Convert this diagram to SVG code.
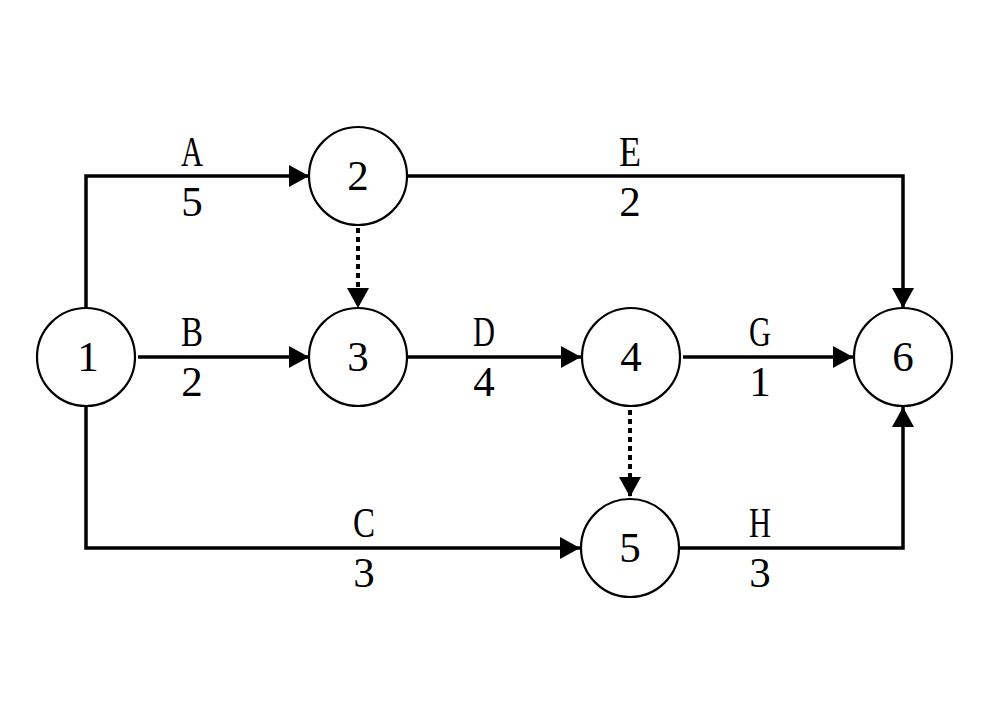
<svg xmlns="http://www.w3.org/2000/svg" width="1000" height="701" viewBox="0 0 1000 701">
<style>
.node circle{fill:#fff;stroke:#000;stroke-width:2.2}
text{font-family:'Liberation Serif','DejaVu Serif','Times New Roman',serif;font-size:43px;text-anchor:middle;fill:#000}
.e{fill:none;stroke:#000;stroke-width:3.5;marker-end:url(#ah)}
.d{fill:none;stroke:#000;stroke-width:4;stroke-dasharray:5 4;marker-end:url(#ah)}
</style>
<defs>
<marker id="ah" markerUnits="userSpaceOnUse" markerWidth="22" markerHeight="24" refX="20" refY="11" orient="auto">
<path d="M0,0 L20,11 L0,22 Z" fill="#000"/>
</marker>
</defs>
<rect width="1000" height="701" fill="#fff"/>
<g id="connectors">
<path class="e" d="M86,308 V176 H309"/>
<path class="e" d="M138,357 H309"/>
<path class="e" d="M408,176 H903 V308"/>
<path class="d" d="M358,228 V308"/>
<path class="e" d="M408,357 H581"/>
<path class="e" d="M683,357 H853"/>
<path class="d" d="M630,410 V497"/>
<path class="e" d="M86,407 V548 H580"/>
<path class="e" d="M680,548 H903 V407"/>
<text x="192" y="166" textLength="22" lengthAdjust="spacingAndGlyphs">A</text>
<text x="192" y="216">5</text>
<text x="192" y="346" textLength="22" lengthAdjust="spacingAndGlyphs">B</text>
<text x="192" y="396">2</text>
<text x="630" y="166" textLength="22" lengthAdjust="spacingAndGlyphs">E</text>
<text x="630" y="216">2</text>
<text x="484" y="346" textLength="22" lengthAdjust="spacingAndGlyphs">D</text>
<text x="484" y="396">4</text>
<text x="760" y="346" textLength="22" lengthAdjust="spacingAndGlyphs">G</text>
<text x="760" y="396">1</text>
<text x="364" y="537" textLength="22" lengthAdjust="spacingAndGlyphs">C</text>
<text x="364" y="587">3</text>
<text x="760" y="537" textLength="22" lengthAdjust="spacingAndGlyphs">H</text>
<text x="760" y="587">3</text>
</g>
<g id="n1" class="node"><circle cx="86" cy="357" r="49"/><text x="88" y="371">1</text></g>
<g id="n2" class="node"><circle cx="358" cy="176" r="49"/><text x="358" y="190">2</text></g>
<g id="n3" class="node"><circle cx="358" cy="357" r="49"/><text x="358" y="371">3</text></g>
<g id="n4" class="node"><circle cx="631" cy="357" r="49"/><text x="631" y="371">4</text></g>
<g id="n5" class="node"><circle cx="630" cy="548" r="49"/><text x="630" y="562">5</text></g>
<g id="n6" class="node"><circle cx="903" cy="357" r="49"/><text x="903" y="371">6</text></g>
</svg>
